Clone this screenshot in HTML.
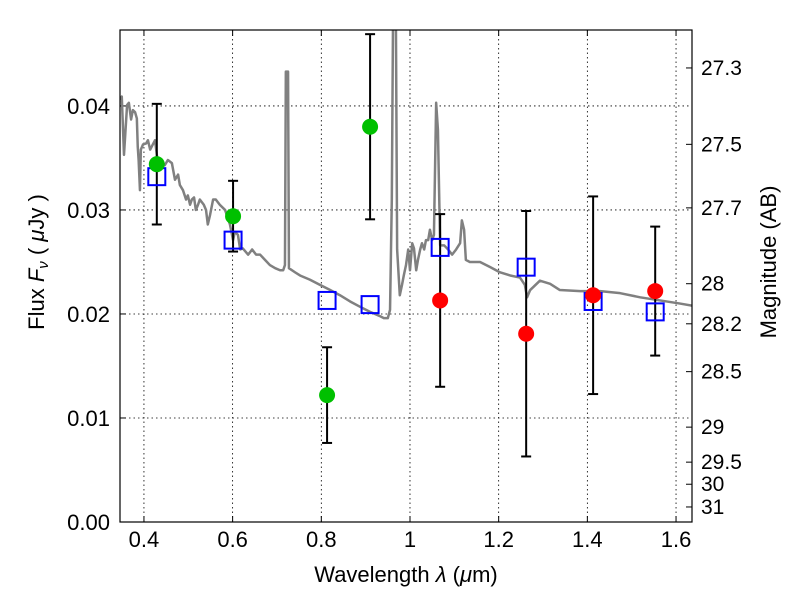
<!DOCTYPE html>
<html><head><meta charset="utf-8"><style>
html,body{margin:0;padding:0;background:#fff;}
svg text{font-family:"Liberation Sans","DejaVu Sans",sans-serif;fill:#000;}
</style></head><body>
<svg id="chart" width="800" height="600" xmlns="http://www.w3.org/2000/svg"></svg>
<script>
const specLam=[0.346,0.350,0.355,0.362,0.366,0.371,0.375,0.380,0.384,0.386,0.388,0.391,0.393,0.398,0.405,0.409,0.414,0.420,0.425,0.432,0.436,0.447,0.454,0.463,0.470,0.477,0.481,0.488,0.495,0.499,0.504,0.508,0.513,0.517,0.522,0.526,0.535,0.540,0.544,0.549,0.556,0.562,0.571,0.583,0.594,0.601,0.605,0.612,0.617,0.623,0.635,0.644,0.653,0.662,0.673,0.684,0.696,0.707,0.714,0.718,0.720,0.725,0.727,0.741,0.752,0.774,0.797,0.820,0.842,0.865,0.887,0.910,0.932,0.941,0.950,0.955,0.959,0.962,0.968,0.971,0.977,0.982,0.986,0.991,0.996,1.000,1.005,1.009,1.014,1.018,1.023,1.027,1.032,1.036,1.041,1.045,1.050,1.054,1.059,1.063,1.068,1.077,1.086,1.095,1.104,1.113,1.117,1.122,1.126,1.135,1.158,1.181,1.203,1.226,1.248,1.259,1.264,1.271,1.293,1.316,1.338,1.384,1.429,1.474,1.519,1.564,1.609,1.636];
const specFlux=[0.0406,0.0409,0.0353,0.0401,0.0403,0.0387,0.0396,0.0394,0.0388,0.0361,0.0348,0.0319,0.0358,0.0363,0.0364,0.0367,0.0358,0.0363,0.0367,0.0343,0.0348,0.0343,0.0348,0.0345,0.0329,0.0334,0.0324,0.0319,0.0310,0.0314,0.0305,0.0310,0.0312,0.0300,0.0305,0.0310,0.0305,0.0300,0.0286,0.0295,0.0310,0.0310,0.0305,0.0300,0.0286,0.0271,0.0279,0.0276,0.0262,0.0263,0.0257,0.0262,0.0257,0.0257,0.0252,0.0247,0.0244,0.0242,0.0242,0.0247,0.0433,0.0433,0.0244,0.0240,0.0237,0.0233,0.0228,0.0223,0.0218,0.0212,0.0207,0.0202,0.0198,0.0196,0.0196,0.0204,0.0310,0.0500,0.0500,0.0262,0.0218,0.0228,0.0237,0.0247,0.0262,0.0242,0.0268,0.0263,0.0242,0.0252,0.0262,0.0268,0.0262,0.0271,0.0271,0.0281,0.0271,0.0276,0.0403,0.0377,0.0266,0.0266,0.0262,0.0257,0.0262,0.0268,0.0290,0.0281,0.0252,0.0250,0.0250,0.0245,0.0240,0.0237,0.0235,0.0228,0.0216,0.0223,0.0232,0.0229,0.0223,0.0222,0.0222,0.0220,0.0216,0.0213,0.0210,0.0208,0.0209];
const greenLam=[0.429,0.601,0.813,0.910];
const greenFlux=[0.0344,0.0294,0.0122,0.0380];
const greenErr=[0.0058,0.0034,0.0046,0.0089];
const redLam=[1.068,1.262,1.413,1.553];
const redFlux=[0.0213,0.0181,0.0218,0.0222];
const redErr=[0.0083,0.0118,0.0095,0.0062];
const modelLam=[0.429,0.601,0.813,0.910,1.068,1.262,1.413,1.553];
const modelFlux=[0.0332,0.0271,0.0213,0.0209,0.0264,0.0245,0.0212,0.0202];
const xTicks=[0.4,0.6,0.8,1.0,1.2,1.4,1.6];
const xTickLabels=["0.4","0.6","0.8","1","1.2","1.4","1.6"];
const yTicks=[0,0.01,0.02,0.03,0.04];
const yTickLabels=["0.00","0.01","0.02","0.03","0.04"];
const magTicks=[27.3,27.5,27.7,28,28.2,28.5,29,29.5,30,31];

const L=120,R=692,T=30,B=522,xMin=0.346,xMax=1.636,yMin=0,yMax=0.0473;
const sx=v=>L+(v-xMin)/(xMax-xMin)*(R-L);
const sy=v=>B-(v-yMin)/(yMax-yMin)*(B-T);
const NS="http://www.w3.org/2000/svg";
const svg=document.getElementById('chart');
function mk(tag,attrs,parent){const e=document.createElementNS(NS,tag);for(const k in attrs)e.setAttribute(k,attrs[k]);(parent||svg).appendChild(e);return e;}
const defs=mk('defs',{});const cp=mk('clipPath',{id:'clip'},defs);mk('rect',{x:L,y:T,width:R-L,height:B-T},cp);
const grid=mk('g',{});


xTicks.forEach((t,i)=>{const x=sx(t);
 mk('line',{x1:x,x2:x,y1:T,y2:B,stroke:'#000','stroke-width':0.8,'stroke-dasharray':'1.5,3'},grid);
 mk('line',{x1:x,x2:x,y1:B,y2:B-6,stroke:'#000'},grid);mk('line',{x1:x,x2:x,y1:T,y2:T+6,stroke:'#000'},grid);
 const tx=mk('text',{x:x,y:B+25,'font-size':22,'text-anchor':'middle'});tx.textContent=xTickLabels[i];
 
 
});
yTicks.forEach((t,i)=>{const y=sy(t);
 mk('line',{x1:L,x2:R,y1:y,y2:y,stroke:'#000','stroke-width':0.8,'stroke-dasharray':'1.5,3'},grid);
 mk('line',{x1:L,x2:L+6,y1:y,y2:y,stroke:'#000'},grid);
 const tx=mk('text',{x:L-10,y:y+8,'font-size':22,'text-anchor':'end'});tx.textContent=yTickLabels[i];
 
 
});
magTicks.forEach(m=>{const y=sy(Math.pow(10,(23.9-m)/2.5));
 mk('line',{x1:R,x2:R-6,y1:y,y2:y,stroke:'#000'},grid);
 const tx=mk('text',{x:R+9,y:y+7,'font-size':21});tx.textContent=String(m);
 
 
});
const pts=specLam.map((l,i)=>sx(l)+','+sy(specFlux[i])).join(' ');
const sp=mk('polyline',{points:pts,fill:'none',stroke:'#808080','stroke-width':2.5,'clip-path':'url(#clip)','stroke-linejoin':'round'});


function errbars(lam,flux,err,name){lam.forEach((l,i)=>{const x=sx(l),y1=sy(flux[i]+err[i]),y2=sy(flux[i]-err[i]);
 const g=mk('g',{stroke:'#000','stroke-width':2});
 
 
 mk('line',{x1:x,x2:x,y1:y1,y2:y2},g);mk('line',{x1:x-5,x2:x+5,y1:y1,y2:y1},g);mk('line',{x1:x-5,x2:x+5,y1:y2,y2:y2},g);});}
errbars(greenLam,greenFlux,greenErr,'green');
errbars(redLam,redFlux,redErr,'red');
modelLam.forEach((l,i)=>{const r=mk('rect',{x:sx(l)-8.5,y:sy(modelFlux[i])-8.5,width:17,height:17,fill:'none',stroke:'#0000ff','stroke-width':2});
 
 });
greenLam.forEach((l,i)=>{const c=mk('circle',{cx:sx(l),cy:sy(greenFlux[i]),r:8,fill:'#00c000'});
 
 });
redLam.forEach((l,i)=>{const c=mk('circle',{cx:sx(l),cy:sy(redFlux[i]),r:8,fill:'#ff0000'});
 
 });
const fr=mk('rect',{x:L,y:T,width:R-L,height:B-T,fill:'none',stroke:'#000','stroke-width':1.2});


</script>
<div style="position:absolute;left:0;top:0;width:800px;height:600px;pointer-events:none;">
<svg width="800" height="600" xmlns="http://www.w3.org/2000/svg" style="position:absolute;left:0;top:0">
<text x="406" y="582" font-size="22" text-anchor="middle" font-family="Liberation Sans, sans-serif">Wavelength  <tspan font-style="italic">λ</tspan> (<tspan font-style="italic">μ</tspan>m)</text>
<text transform="translate(44,262) rotate(-90)" font-size="22" text-anchor="middle" font-family="Liberation Sans, sans-serif">Flux  <tspan font-style="italic">F</tspan><tspan font-style="italic" font-size="15" dy="4">ν</tspan><tspan dy="-4">  (  </tspan><tspan font-style="italic">μ</tspan>Jy )</text>
<text transform="translate(776,262) rotate(-90)" font-size="22" text-anchor="middle" font-family="Liberation Sans, sans-serif">Magnitude (AB)</text>
</svg></div>
</body></html>
